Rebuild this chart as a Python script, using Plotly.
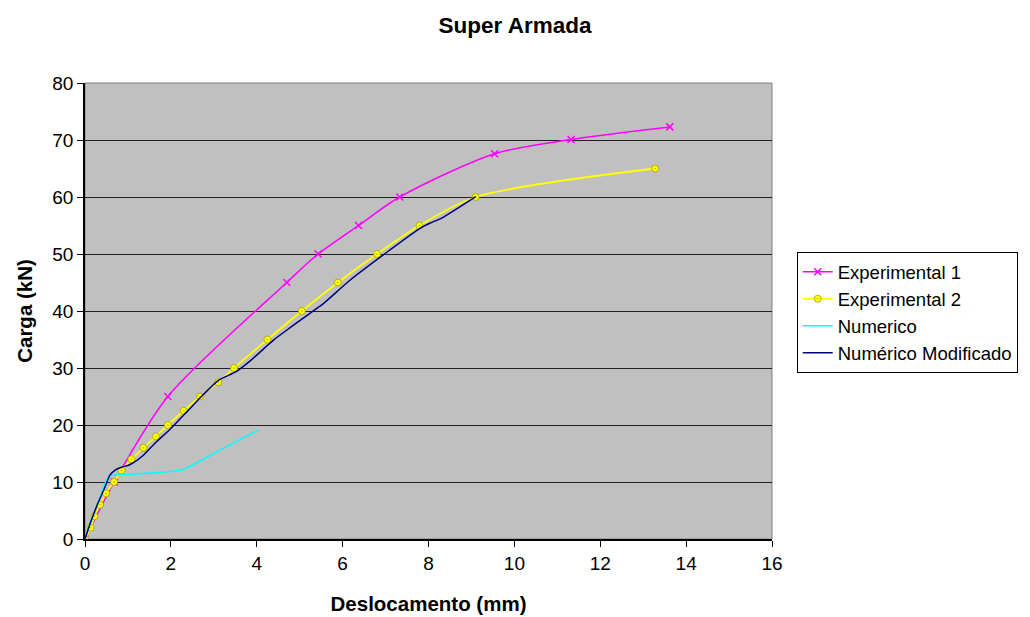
import plotly.graph_objects as go

exp1_x = [0, 0.68, 1.93, 4.70, 5.43, 6.37, 7.33, 9.54, 11.32, 13.62]
exp1_y = [0, 10, 25, 45, 50, 55, 60, 67.6, 70.1, 72.3]

exp2_x = [0, 0.13, 0.22, 0.35, 0.49, 0.675, 0.85, 1.08, 1.36, 1.65, 1.93, 2.30, 2.68, 3.10, 3.47, 4.25, 5.05, 5.89, 6.80, 7.79, 9.10, 13.28]
exp2_y = [0, 2, 4, 6, 8, 10, 12, 14, 16, 18, 20, 22.5, 25, 27.5, 30, 35, 40, 45, 50, 55, 60, 65]

num_x = [0, 0.27, 0.54, 0.66, 0.89, 2.25, 3.14, 4.04]
num_y = [0, 5.7, 10.9, 11.2, 11.3, 12.1, 15.6, 19.1]

mod_x = [0, 0.12, 0.27, 0.47, 0.58, 0.70, 0.85, 1.0, 1.13, 1.36, 1.63, 2.0, 2.37, 2.75, 3.10, 3.53, 3.84, 4.39, 4.8, 5.24, 5.55, 6.17, 7.10, 7.80, 8.03, 8.31, 9.10]
mod_y = [0, 2.7, 5.7, 9.2, 11.2, 12.1, 12.6, 12.9, 13.4, 14.7, 16.8, 19.4, 22.3, 25.3, 27.8, 29.4, 31.2, 34.9, 37.2, 39.6, 41.3, 45.4, 50.7, 54.5, 55.4, 56.3, 60.05]

x_ticks = list(range(0, 17, 2))
y_ticks = list(range(0, 81, 10))

FONT = "Liberation Sans, Arial, sans-serif"

fig = go.Figure()
fig.add_trace(go.Scatter(x=exp1_x, y=exp1_y, name="Experimental 1", mode="lines+markers",
                         line=dict(color="#FF00FF", width=1.5, shape="spline", smoothing=0.8),
                         marker=dict(symbol="x-thin", size=7, line=dict(color="#FF00FF", width=1.5), color="#FF00FF")))
fig.add_trace(go.Scatter(x=exp2_x, y=exp2_y, name="Experimental 2", mode="lines+markers",
                         line=dict(color="#FFFF00", width=1.8, shape="spline", smoothing=0.8),
                         marker=dict(symbol="circle-dot", size=7, color="#FFFF00", line=dict(color="#A0A000", width=0.8))))
fig.add_trace(go.Scatter(x=num_x, y=num_y, name="Numerico", mode="lines",
                         line=dict(color="#00FFFF", width=1.5, shape="spline", smoothing=0.5)))
fig.add_trace(go.Scatter(x=mod_x, y=mod_y, name="Numérico Modificado", mode="lines",
                         line=dict(color="#000080", width=1.5, shape="spline", smoothing=0.6)))

W, H = 1022, 609
fig.update_layout(
    width=W, height=H,
    margin=dict(l=77, r=258, t=75, b=78),
    paper_bgcolor="white", plot_bgcolor="#C0C0C0",
    font=dict(family=FONT, color="black", size=19),
    title=dict(text="<b>Super Armada</b>", x=507 / W, xref="container", xanchor="center",
               y=1 - 17 / H, yref="container", yanchor="middle", font=dict(size=22.5, family=FONT)),
    showlegend=True,
    legend=dict(x=1.036, y=0.629, xanchor="left", yanchor="top", bgcolor="white",
                bordercolor="black", borderwidth=1, font=dict(size=18.5, family=FONT),
                tracegroupgap=0, itemwidth=30),
    shapes=[dict(type="rect", xref="paper", yref="paper", x0=0, x1=1, y0=0, y1=1,
                 line=dict(color="#808080", width=1), layer="below")],
)
fig.update_xaxes(range=[0, 16], tickvals=x_ticks, showgrid=False, zeroline=False, automargin=False,
                 showline=True, linecolor="black", linewidth=1.5, mirror=False,
                 ticks="outside", ticklen=6, tickcolor="black", tickfont=dict(size=19),
                 title=dict(text="<b>Deslocamento (mm)</b>", font=dict(size=20.5), standoff=24))
fig.update_yaxes(range=[0, 80], tickvals=y_ticks, showgrid=True, gridcolor="#222222", gridwidth=1.2,
                 zeroline=False, showline=True, linecolor="black", linewidth=1.5, mirror=False, automargin=False,
                 ticks="outside", ticklen=6, tickcolor="black", tickfont=dict(size=19),
                 title=dict(text="<b>Carga (kN)</b>", font=dict(size=20.5), standoff=14))

fig.write_html("out.html")
